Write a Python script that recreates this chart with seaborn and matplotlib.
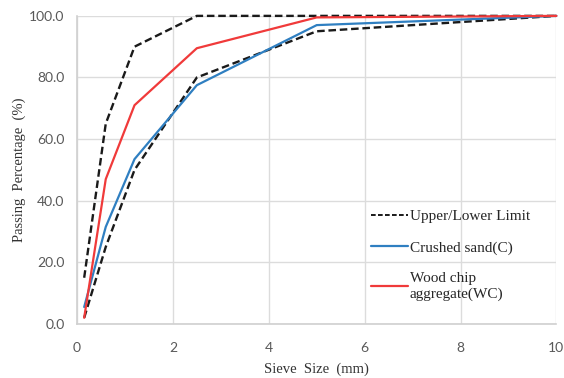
import matplotlib
matplotlib.use("Agg")
import matplotlib.pyplot as plt
from matplotlib.lines import Line2D
import numpy as np
import pandas as pd
import seaborn as sns

# Sieve sizes (mm) and passing percentages (%)
sieve_mm = [0.15, 0.6, 1.2, 2.5, 5.0, 10.0]
upper_limit = [15, 65, 90, 100, 100, 100]
lower_limit = [2, 25, 50, 80, 95, 100]
crushed_sand = [5.5, 31.5, 53.5, 77.5, 97, 100]
wood_chip = [2, 47, 71, 89.5, 99.5, 100]

x_ticks = [0, 2, 4, 6, 8, 10]
y_ticks = [0, 20, 40, 60, 80, 100]

sns.set_theme(style="whitegrid")
plt.rcParams["font.family"] = ["DejaVu Sans"]

fig = plt.figure(figsize=(5.64, 3.78), dpi=100)
ax = fig.add_axes([0.1365, 0.143, 0.85, 0.815])

df = pd.DataFrame({
    "size": sieve_mm * 4,
    "passing": upper_limit + lower_limit + crushed_sand + wood_chip,
    "series": (["upper"] * len(sieve_mm) + ["lower"] * len(sieve_mm)
               + ["sand"] * len(sieve_mm) + ["wood"] * len(sieve_mm)),
})

styles = {
    "upper": dict(color="#1a1a1a", linestyle=(0, (3.2, 1.6)), lw=1.7),
    "lower": dict(color="#1a1a1a", linestyle=(0, (3.2, 1.6)), lw=1.7),
    "sand": dict(color="#2f7fc1", linestyle="-", lw=1.6),
    "wood": dict(color="#f03a3a", linestyle="-", lw=1.6),
}
for name in ["upper", "lower", "sand", "wood"]:
    sns.lineplot(data=df[df["series"] == name], x="size", y="passing",
                 ax=ax, estimator=None, sort=False, **styles[name])
for line in ax.get_lines():
    line.set_clip_on(False)

ax.set_xlim(0, 10)
ax.set_ylim(0, 100)
ax.set_xticks(x_ticks)
ax.set_yticks(y_ticks)
ax.set_yticklabels([f"{v:.1f}" for v in y_ticks])
ax.tick_params(axis="both", labelsize=10, labelcolor="#595959", length=0)
ax.tick_params(axis="x", pad=13)
ax.tick_params(axis="y", pad=9)
for lab in ax.get_xticklabels() + ax.get_yticklabels():
    lab.set_fontfamily("Lato")

ax.grid(True, color="#dcdcdc", lw=1.0)
for side in ["top", "right"]:
    ax.spines[side].set_visible(False)
for side in ["left", "bottom"]:
    ax.spines[side].set_color("#d0d0d0")
    ax.spines[side].set_linewidth(1.2)

serif = "Liberation Serif"
ax.set_xlabel("Sieve  Size  (mm)", fontsize=10.5, family=serif, color="#333333", labelpad=6)
ax.set_ylabel("Passing  Percentage  (%)", fontsize=10.5, family=serif, color="#333333", labelpad=2)

handles = [
    Line2D([], [], color="#1a1a1a", linestyle=(0, (2.4, 1.2)), lw=1.4),
    Line2D([], [], color="#2f7fc1", lw=1.6),
    Line2D([], [], color="#f03a3a", lw=1.6),
]
labels = ["Upper/Lower Limit", "Crushed sand(C)", "Wood chip\naggregate(WC)"]
leg = ax.legend(handles, labels, loc="lower left", bbox_to_anchor=(0.585, 0.03),
                frameon=False, handlelength=2.4, handletextpad=0.12,
                labelspacing=1.15, prop={"family": serif, "size": 11})
for t in leg.get_texts():
    t.set_color("#262626")

fig.savefig("out.png", dpi=100)
